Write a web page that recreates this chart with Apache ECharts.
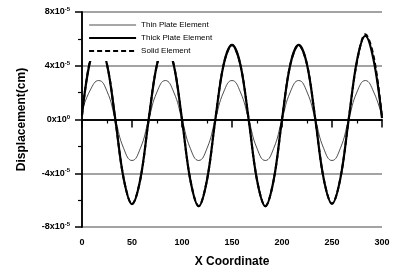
<!DOCTYPE html>
<html>
<head>
<meta charset="utf-8">
<script src="https://cdn.jsdelivr.net/npm/echarts@6/dist/echarts.min.js"></script>
<style>
  html, body { margin: 0; padding: 0; background: #fff; }
  #chart { width: 397px; height: 273px; }
</style>
</head>
<body>
<div id="chart"></div>
<script>
// x positions along the plate
const xCoord = [0, 8.33, 16.67, 25, 33.33, 41.67, 50, 58.33, 66.67, 75, 83.33, 91.67,
  100, 108.33, 116.67, 125, 133.33, 141.67, 150, 158.33, 166.67, 175, 183.33, 191.67,
  200, 208.33, 216.67, 225, 233.33, 241.67, 250, 258.33, 266.67, 275, 283.33, 291.67, 300]

// displacement, in units of 1e-5 cm
const thinPlate = [0.6, 2.2, 2.9, 2.1, 0, -2.15, -3.05, -2.15, 0, 2.05, 2.9, 2.05,
  0, -2.15, -3.05, -2.15, 0, 2.05, 2.9, 2.05, 0, -2.15, -3.05, -2.15,
  0, 2.05, 2.9, 2.05, 0, -2.15, -3.05, -2.15, 0, 2.05, 2.9, 2.05, 0.2]
const thickPlate = [0.3, 4.4, 5.6, 4.1, 0, -4.4, -6.3, -4.45, 0, 4.1, 5.6, 4.1,
  0, -4.5, -6.45, -4.5, 0, 4.1, 5.55, 4.1, 0, -4.5, -6.45, -4.5,
  0, 4.1, 5.55, 4.1, 0, -4.4, -6.27, -4.4, 0, 4.4, 6.22, 4.4, 0.1]
const solidElement = [0.3, 4.5, 5.6, 4.1, 0, -4.4, -6.3, -4.45, 0, 4.1, 5.6, 4.1,
  0, -4.5, -6.45, -4.5, 0, 4.1, 5.55, 4.1, 0, -4.5, -6.45, -4.5,
  0, 4.1, 5.55, 4.1, 0, -4.4, -6.27, -4.4, 0, 4.3, 6.35, 4.7, 0.2]

const seriesNames = ['Thin Plate Element', 'Thick Plate Element', 'Solid Element']
const yTicks = [-8, -4, 0, 4, 8]

const pairs = (ys) => xCoord.map((x, i) => [x, ys[i]])

const chart = echarts.init(document.getElementById('chart'))

const font = 'Liberation Sans, Arial, sans-serif'

const lineStyles = [
  { color: '#222', width: 0.8 },
  { color: '#000', width: 2.2 },
  { color: '#000', width: 2, type: [5, 3] },
]

const option = {
  backgroundColor: '#fff',
  animation: false,
  textStyle: { fontFamily: font },
  grid: { left: 82, right: 15, top: 12, bottom: 46 },
  legend: {
    orient: 'vertical',
    left: 83,
    top: 15,
    padding: [6, 10, 6, 5],
    itemGap: 5,
    itemWidth: 47,
    itemHeight: 9,
    backgroundColor: '#fff',
    data: seriesNames.map((name, i) => ({ name, lineStyle: lineStyles[i] })),
    itemStyle: { opacity: 0 },
    textStyle: { fontFamily: font, fontSize: 8, color: '#000' },
  },
  xAxis: [
    {
      type: 'value',
      min: 0,
      max: 300,
      interval: 50,
      name: 'X Coordinate',
      nameLocation: 'middle',
      nameGap: 29,
      nameTextStyle: { fontFamily: font, fontSize: 12, fontWeight: 'bold', color: '#000' },
      axisLine: { lineStyle: { color: '#000', width: 1.5 } },
      axisTick: { length: 8, lineStyle: { color: '#000', width: 1.5 } },
      minorTick: { show: true, splitNumber: 2, length: 4, lineStyle: { color: '#000', width: 1.2 } },
      axisLabel: { margin: 11, fontFamily: font, fontSize: 9, fontWeight: 'bold', color: '#000' },
      splitLine: { show: false },
    },
    {
      type: 'value',
      position: 'top',
      min: 0,
      max: 300,
      axisLine: { show: true, lineStyle: { color: '#000', width: 1.5 } },
      axisTick: { show: false },
      axisLabel: { show: false },
      splitLine: { show: false },
    },
  ],
  yAxis: [
    {
      type: 'value',
      min: yTicks[0],
      max: yTicks[yTicks.length - 1],
      interval: 4,
      name: 'Displacement(cm)',
      nameLocation: 'middle',
      nameGap: 54,
      nameTextStyle: { fontFamily: font, fontSize: 12, fontWeight: 'bold', color: '#000' },
      axisLine: { show: true, lineStyle: { color: '#000', width: 1.5 } },
      axisTick: { length: 7, lineStyle: { color: '#000', width: 1.5 } },
      minorTick: { show: true, splitNumber: 2, length: 4, lineStyle: { color: '#000', width: 1.2 } },
      axisLabel: {
        margin: 12,
        formatter: (v) => '{b|' + v + 'x10}{s|' + (v === 0 ? '0' : '-5') + '}',
        rich: {
          b: { fontFamily: font, fontSize: 9, fontWeight: 'bold', color: '#000' },
          s: { fontFamily: font, fontSize: 6, fontWeight: 'bold', color: '#000', verticalAlign: 'top', padding: [0, 0, 5, 0] },
        },
      },
      splitLine: { show: true, lineStyle: { color: '#a3a3a3', width: 2 } },
    },
    {
      type: 'value',
      position: 'right',
      min: -8,
      max: 8,
      axisLine: { show: true, lineStyle: { color: '#000', width: 1.5 } },
      axisTick: { show: false },
      axisLabel: { show: false },
      splitLine: { show: false },
    },
  ],
  series: [
    {
      name: seriesNames[0],
      type: 'line',
      data: pairs(thinPlate),
      smooth: 0.5,
      symbol: 'none',
      lineStyle: lineStyles[0],
      itemStyle: { color: '#222' },
    },
    {
      name: seriesNames[1],
      type: 'line',
      data: pairs(thickPlate),
      smooth: 0.35,
      symbol: 'none',
      lineStyle: lineStyles[1],
      itemStyle: { color: '#000' },
    },
    {
      name: seriesNames[2],
      type: 'line',
      data: pairs(solidElement),
      smooth: 0.35,
      symbol: 'none',
      lineStyle: lineStyles[2],
      itemStyle: { color: '#000' },
    },
  ],
}

chart.setOption(option)
</script>
</body>
</html>
